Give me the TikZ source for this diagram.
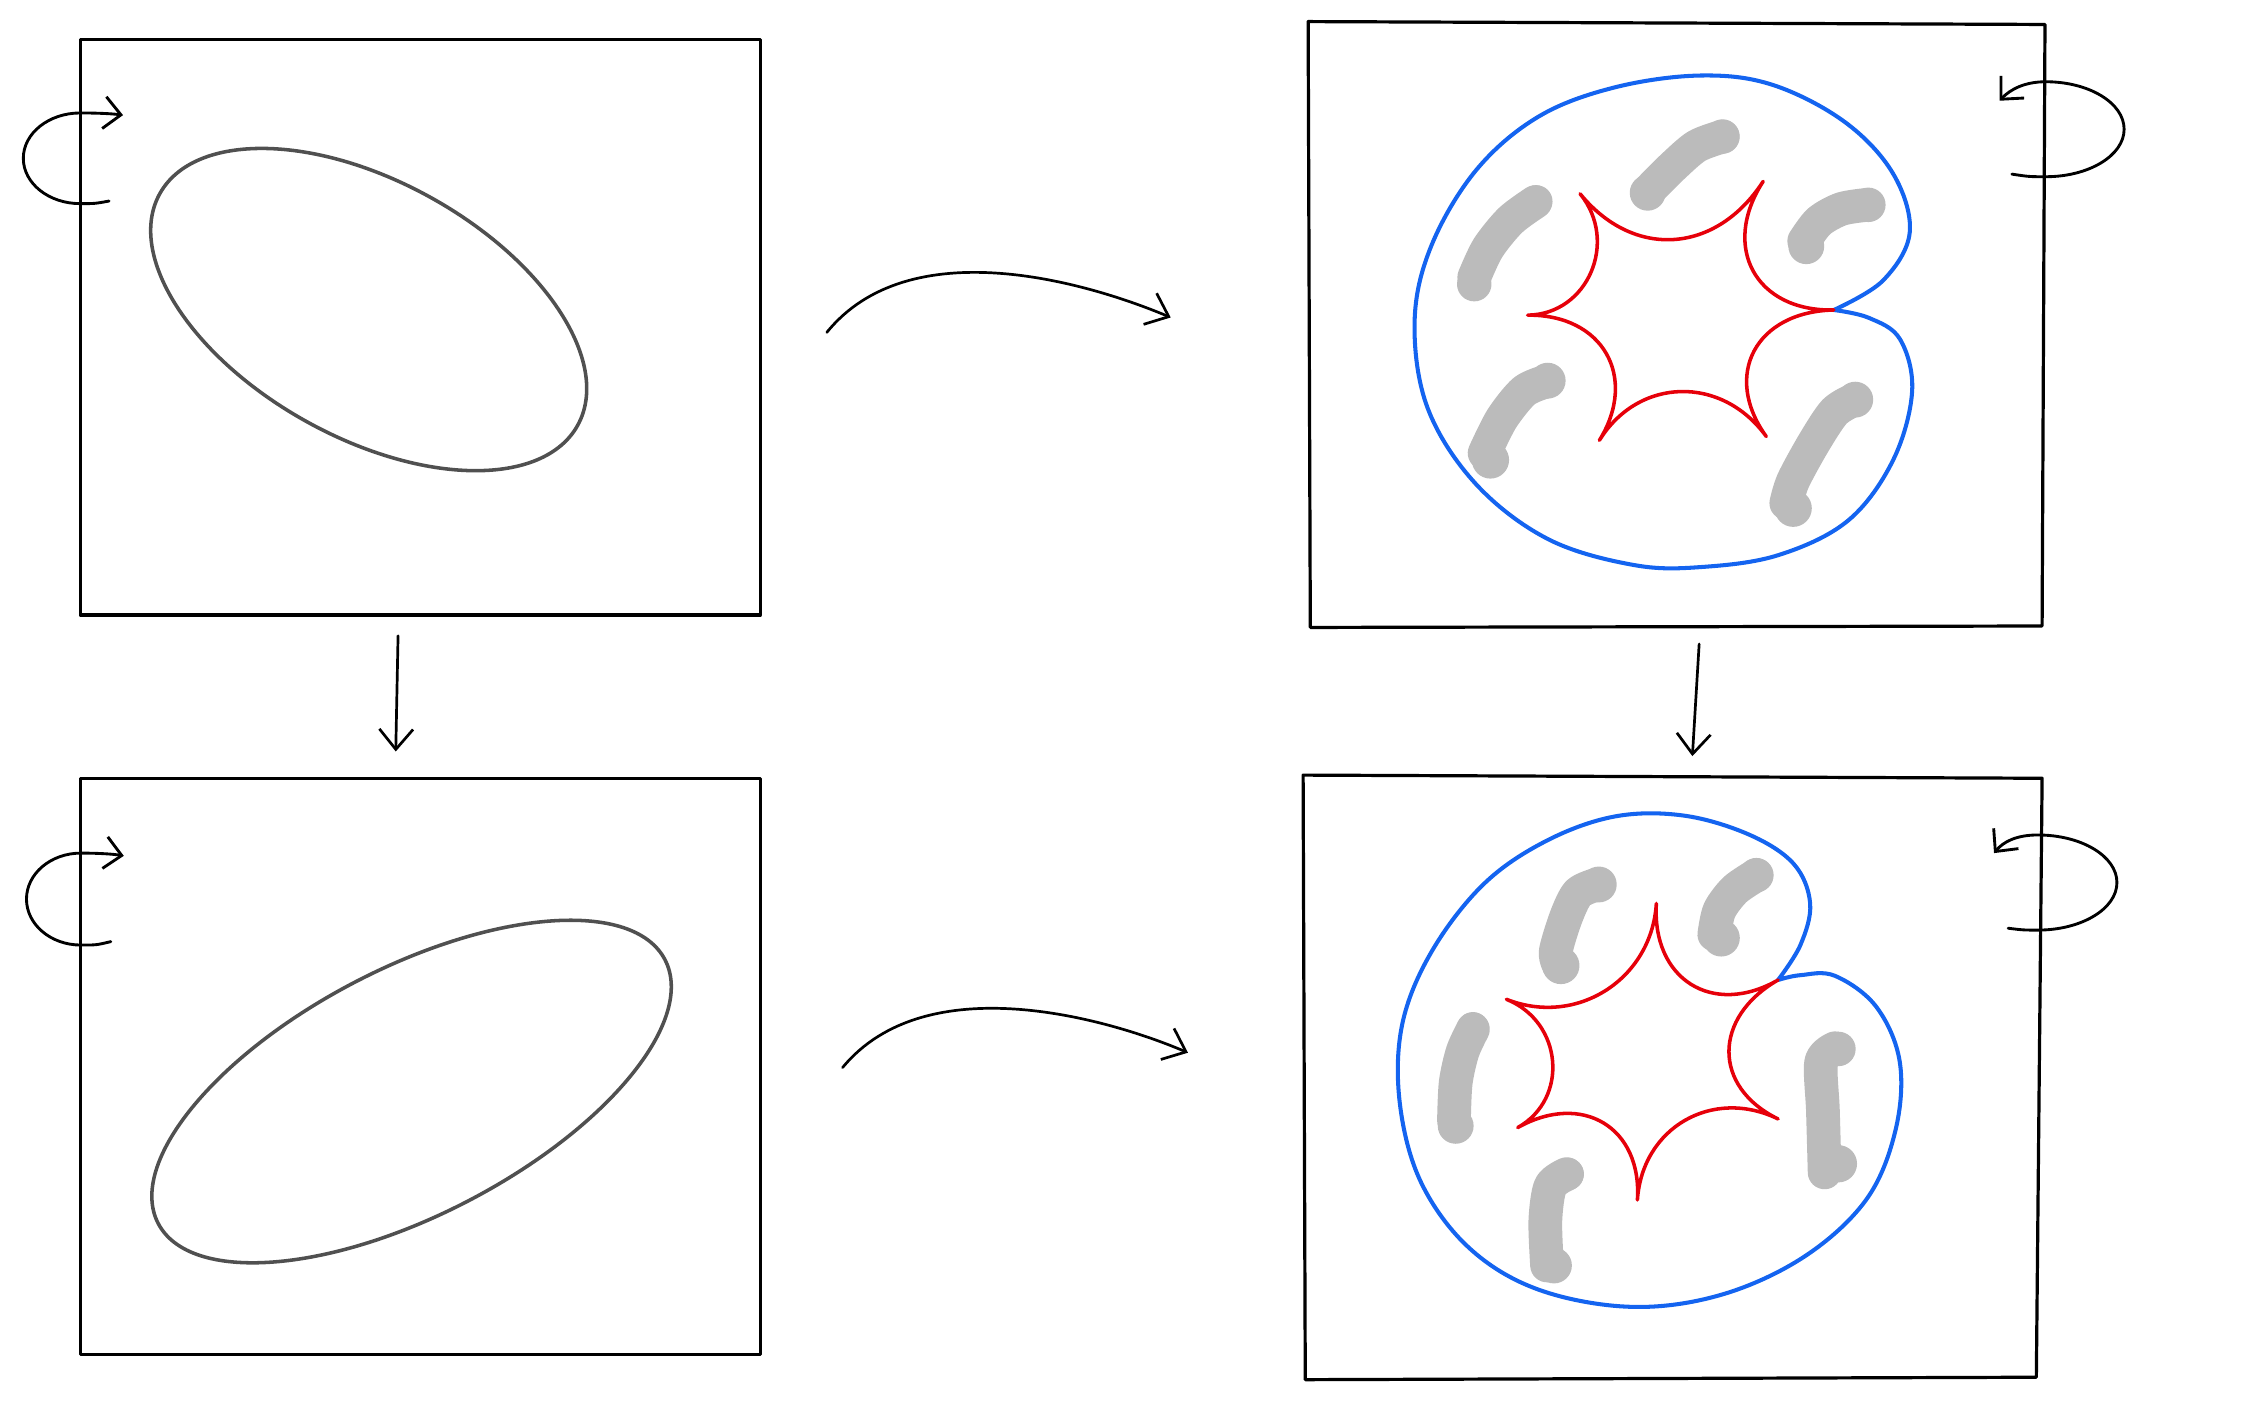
\documentclass[tikz,border=0pt]{standalone}
\usepackage{xcolor}
\definecolor{myblue}{RGB}{20,100,240}
\definecolor{myred}{RGB}{230,0,10}
\definecolor{mygray}{RGB}{187,187,187}
\definecolor{mydark}{RGB}{80,80,80}
\usepackage{tikz}
\usetikzlibrary{calc,arrows.meta}
\begin{document}
\begin{tikzpicture}[x=0.015cm,y=-0.015cm,line cap=round,line join=round]
	\tikzstyle{frame}=[line width=0.95pt];
	\tikzstyle{oval}=[mydark,line width=1.05pt];
	\tikzstyle{map}=[line width=0.8pt,-{Straight Barb[length=6pt,width=10pt]}];
	\tikzstyle{spin}=[line width=0.85pt,-{Straight Barb[length=5pt,width=9.5pt]}];
	\tikzstyle{rim}=[myblue,line width=1.2pt];
	\tikzstyle{star}=[myred,line width=1.05pt];
	\tikzstyle{smudge}=[mygray,line width=10pt];
	\useasboundingbox (0,0) rectangle (1560,982.6);
	\coordinate (e1)  at (256.2,215.1);
	\coordinate (e2)  at (286,758.5);
	\coordinate (m1a) at (574.5,231);
	\coordinate (m1b) at (813.5,220.6);
	\coordinate (m2a) at (585.5,741.8);
	\coordinate (m2b) at (825.5,731.5);
	\coordinate (v1a) at (276.6,441.8);
	\coordinate (v1b) at (275,522.2);
	\coordinate (v2a) at (1180.7,447.5);
	\coordinate (v2b) at (1176,525.4);
	\coordinate (s1a) at (75.8,139.7);
	\coordinate (s1b) at (85.5,80);
	\coordinate (s2a) at (77,654.3);
	\coordinate (s2b) at (86,594.7);
	\coordinate (s3a) at (1398,121);
	\coordinate (s3b) at (1389.4,70);
	\coordinate (s4a) at (1395.4,645);
	\coordinate (s4b) at (1385.6,592.8);
	\draw[frame] (55.7,27.4) rectangle (528.3,427.4);
	\draw[frame] (56.2,540.8) rectangle (528.3,941.4);
	\draw[frame] (909,15) -- (1421,17) -- (1419,435) -- (910.5,436) -- cycle;
	\draw[frame] (905.5,538.6) -- (1419,540.8) -- (1415,957) -- (907,958.7) -- cycle;
	\draw[oval,rotate around={-29:(e1)}] (e1) ellipse [x radius=166,y radius=89];
	\draw[oval,rotate around={27.5:(e2)}] (e2) ellipse [x radius=198.5,y radius=85.6];
	\draw[map] (m1a) .. controls (632,160) and (755,196) .. (m1b);
	\draw[map] (m2a) .. controls (643,672) and (768,707) .. (m2b);
	\draw[map] (v1a) -- (v1b);
	\draw[map] (v2a) -- (v2b);
	\draw[spin] (s1a) .. controls (66,141.5) .. (55.7,141.5) .. controls (33.9,141.5) and (16.2,127.4) .. (16.2,110) .. controls (16.2,92.6) and (33.9,78.5) .. (55.7,78.5) .. controls (68,78.5) and (78,79) .. (s1b);
	\draw[spin] (s2a) .. controls (67,656.7) .. (56.2,656.7) .. controls (35.3,656.7) and (18.4,642.4) .. (18.4,624.75) .. controls (18.4,607.1) and (35.3,592.8) .. (56.2,592.8) .. controls (69,592.8) and (79,593.5) .. (s2b);
	\draw[spin] (s3a) .. controls (1410,122.8) .. (1421.6,122.8) .. controls (1451.6,122.8) and (1476,108) .. (1476,89.8) .. controls (1476,71.6) and (1451.6,56.8) .. (1421.6,56.8) .. controls (1407,56.8) and (1397,62) .. (s3b);
	\draw[spin] (s4a) .. controls (1406,646.3) .. (1416,646.3) .. controls (1446.4,646.3) and (1471,631.5) .. (1471,613.25) .. controls (1471,595) and (1446.4,580.2) .. (1416,580.2) .. controls (1401,580.2) and (1392,585) .. (s4b);
	\begin{scope}[shift={(972.9,41.7)},scale=0.2396]
		\coordinate (to) at (805,735);
		\coordinate (t1) at (522,388);
		\coordinate (t2) at (1053,352);
		\coordinate (t3) at (1258,725);
		\coordinate (t4) at (1062,1092);
		\coordinate (t5) at (578,1103);
		\coordinate (t6) at (370,740);
		\draw[rim] plot[smooth,tension=0.6] coordinates {(t3) (1400,640) (1478,500) (1430,330) (1290,180) (1080,72) (870,45) (620,80) (400,165) (220,320) (90,540) (42,760) (80,1010) (220,1230) (430,1390) (680,1465) (880,1470) (1100,1435) (1300,1335) (1430,1160) (1485,960) (1450,810) (1360,748) (t3)};
		\draw[star] (t1) .. controls ($(t1)!.55!(to)$) and ($(t2)!.55!(to)$) .. (t2)
			.. controls ($(t2)!.5!(to)$) and ($(t3)!.5!(to)$) .. (t3)
			.. controls ($(t3)!.5!(to)$) and ($(t4)!.5!(to)$) .. (t4)
			.. controls ($(t4)!.5!(to)$) and ($(t5)!.5!(to)$) .. (t5)
			.. controls ($(t5)!.5!(to)$) and ($(t6)!.5!(to)$) .. (t6)
			.. controls ($(t6)!.4!(to)$) and ($(t1)!.4!(to)$) .. (t1);
		\draw[smudge] plot[smooth] coordinates {(725,375) (790,310) (860,250) (935,222)};
		\draw[smudge] plot[smooth] coordinates {(392,412) (320,465) (255,545) (215,630)};
		\draw[smudge] plot[smooth] coordinates {(1355,420) (1280,432) (1215,468) (1172,525)};
		\draw[smudge] plot[smooth] coordinates {(425,932) (360,960) (295,1040) (245,1140)};
		\draw[smudge] plot[smooth] coordinates {(1318,985) (1260,1020) (1200,1110) (1140,1220) (1120,1285)};
		\fill[mygray] (718,385) circle (52) (935,222) circle (50);
		\fill[mygray] (395,410) circle (47) (215,650) circle (50);
		\fill[mygray] (1358,420) circle (50) (1178,540) circle (52);
		\fill[mygray] (428,930) circle (52) (262,1160) circle (54);
		\fill[mygray] (1320,985) circle (52) (1140,1300) circle (54);
	\end{scope}
	\begin{scope}[shift={(966.0,555.9)},scale=0.2396]
		\coordinate (bo) at (745,740);
		\coordinate (b1) at (772,300);
		\coordinate (b2) at (1125,522);
		\coordinate (b3) at (1125,925);
		\coordinate (b4) at (717,1160);
		\coordinate (b5) at (370,950);
		\coordinate (b6) at (337,578);
		\draw[rim] plot[smooth,tension=0.6] coordinates {(b2) (1190,420) (1218,300) (1170,185) (1040,100) (850,45) (650,48) (450,120) (270,245) (120,440) (35,650) (28,880) (90,1110) (230,1300) (430,1420) (700,1470) (960,1435) (1200,1325) (1380,1160) (1465,960) (1478,760) (1410,600) (1290,510) (1190,508) (b2)};
		\draw[star] (b1) .. controls ($(b1)!.5!(bo)$) and ($(b2)!.5!(bo)$) .. (b2)
			.. controls ($(b2)!.5!(bo)$) and ($(b3)!.5!(bo)$) .. (b3)
			.. controls ($(b3)!.5!(bo)$) and ($(b4)!.5!(bo)$) .. (b4)
			.. controls ($(b4)!.5!(bo)$) and ($(b5)!.5!(bo)$) .. (b5)
			.. controls ($(b5)!.4!(bo)$) and ($(b6)!.4!(bo)$) .. (b6)
			.. controls ($(b6)!.5!(bo)$) and ($(b1)!.5!(bo)$) .. (b1);
		\draw[smudge] plot[smooth] coordinates {(600,245) (545,270) (510,340) (480,440) (490,480)};
		\draw[smudge] plot[smooth] coordinates {(1062,218) (1000,260) (955,320) (940,390)};
		\draw[smudge] plot[smooth] coordinates {(240,665) (210,730) (190,820) (185,930)};
		\draw[smudge] plot[smooth] coordinates {(1290,720) (1250,760) (1255,900) (1260,1080)};
		\draw[smudge] plot[smooth] coordinates {(512,1085) (465,1120) (450,1220) (455,1350)};
		\fill[mygray] (605,245) circle (52) (495,480) circle (54);
		\fill[mygray] (1062,218) circle (50) (960,400) circle (54);
		\fill[mygray] (240,662) circle (47) (190,945) circle (52);
		\fill[mygray] (1300,722) circle (50) (1300,1055) circle (54);
		\fill[mygray] (515,1085) circle (47) (475,1350) circle (52);
	\end{scope}
\end{tikzpicture}
\end{document}
